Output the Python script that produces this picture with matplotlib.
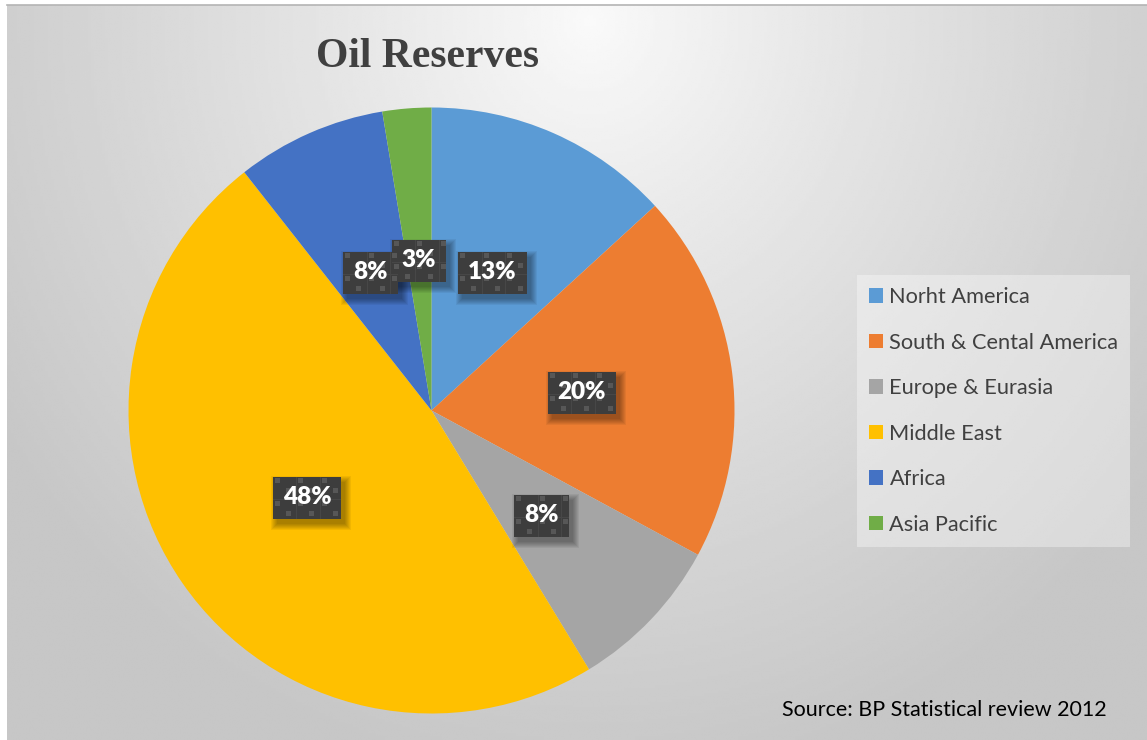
import numpy as np
import matplotlib
matplotlib.use("Agg")
import matplotlib.pyplot as plt
from matplotlib.patches import Rectangle
from matplotlib.transforms import IdentityTransform

# BP Statistical Review 2012 - share of proved oil reserves (%)
regions = ["Norht America", "South & Cental America", "Europe & Eurasia",
           "Middle East", "Africa", "Asia Pacific"]
shares = [13.2, 19.7, 8.4, 48.1, 8.0, 2.6]
colors = ["#5B9BD5", "#ED7D31", "#A5A5A5", "#FFC000", "#4472C4", "#70AD47"]

W, H = 1147, 740
fig = plt.figure(figsize=(W / 100, H / 100), dpi=100)
fig.patch.set_facecolor("white")

# ── gradient backdrop (light at top centre, grey towards the edges) ─────────
x0, y0 = 7, 5
bg = fig.add_axes([x0 / W, 0, (W - x0) / W, (H - y0) / H])
xs = np.linspace(x0, W, 400)
ys = np.linspace(y0, H, 260)
gx, gy = np.meshgrid(xs, ys)
d = np.sqrt(((gx - 590) / 700) ** 2 + ((gy - 20) / 760) ** 2)
shade = 0.98 - 0.2 * np.clip(d, 0, 1) ** 0.9
bg.imshow(shade, cmap="gray", vmin=0, vmax=1, aspect="auto",
          extent=[x0, W, H, y0], interpolation="bilinear")
bg.set_xlim(x0, W)
bg.set_ylim(H, y0)
bg.axis("off")
fig.add_artist(plt.Line2D([x0 / W, 1], [1 - y0 / H, 1 - y0 / H],
                          color="#b4b4b4", lw=1.2, transform=fig.transFigure))

# ── pie ──────────────────────────────────────────────────────────────────────
cx, cy, r = 431.5, 410.5, 303
ax = fig.add_axes([(cx - r) / W, (H - cy - r) / H, 2 * r / W, 2 * r / H])
wedges, _, autotexts = ax.pie(
    shares, colors=colors, startangle=90, counterclock=False,
    autopct="%.0f%%", pctdistance=0.5, radius=1,
    wedgeprops=dict(linewidth=0),
)
ax.set_xlim(-1, 1)
ax.set_ylim(-1, 1)
ax.set_aspect("auto")

for t in autotexts:
    t.set_fontfamily("Lato")
    t.set_fontweight("heavy")
    t.set_fontsize(17.5)
    t.set_color("white")
    t.set_zorder(10)

# dark textured label boxes with a soft drop shadow, drawn in pixel space
fig.canvas.draw()
renderer = fig.canvas.get_renderer()
ident = IdentityTransform()
TILE = 23.5
for t in autotexts:
    bb = t.get_window_extent(renderer)
    px, py = ax.transData.transform(t.get_position())
    bw, bh = bb.width + 20, 42
    left, bottom = px - bw / 2, py - bh / 2 - 1
    top = bottom + bh

    for k in range(7):
        ax.add_patch(Rectangle((left + 4 - k, bottom - 5 - k), bw + 2 * k, bh + 2 * k,
                               transform=ident, facecolor="black", alpha=0.055,
                               linewidth=0, zorder=4, clip_on=False))
    ax.add_patch(Rectangle((left, bottom), bw, bh, transform=ident,
                           facecolor="#3d3d3d", linewidth=0, zorder=5, clip_on=False))

    # faint cell lines
    gx_ = left + TILE
    while gx_ < left + bw - 2:
        ax.add_patch(Rectangle((gx_, bottom), 1, bh, transform=ident,
                               facecolor="#474747", linewidth=0, zorder=6, clip_on=False))
        gx_ += TILE
    ax.add_patch(Rectangle((left, top - TILE), bw, 1, transform=ident,
                           facecolor="#474747", linewidth=0, zorder=6, clip_on=False))

    # small lighter squares
    for row in range(2):
        for col in range(4):
            for sx, sy in ((2, 1), (13, 11)):
                qx = left + col * TILE + sx
                qy = top - row * TILE - sy - 5
                if qx + 5 <= left + bw and qy >= bottom:
                    ax.add_patch(Rectangle((qx, qy), 5, 5, transform=ident,
                                           facecolor="#575757", linewidth=0,
                                           zorder=7, clip_on=False))

# ── title, legend, source note ───────────────────────────────────────────────
fig.text(427 / W, 1 - 57 / H, "Oil Reserves", ha="center", va="center",
         fontfamily="Liberation Serif", fontweight="bold", fontsize=30,
         color="#404040")

leg = fig.legend(wedges, regions, loc="upper left",
                 bbox_to_anchor=(857 / W, 1 - 275 / H),
                 prop=dict(family="Lato", size=15.7), labelcolor="#404040",
                 handlelength=0.64, handleheight=0.64, handletextpad=0.3,
                 labelspacing=1.17, borderpad=0.55, borderaxespad=0,
                 frameon=True, fancybox=False)
leg.get_frame().set_facecolor("white")
leg.get_frame().set_alpha(0.35)
leg.get_frame().set_linewidth(0)

fig.text(1107 / W, 1 - 710 / H, "Source: BP Statistical review 2012",
         ha="right", va="center", fontfamily="Lato", fontsize=15.5, color="black")

fig.savefig("out.png", dpi=100)
